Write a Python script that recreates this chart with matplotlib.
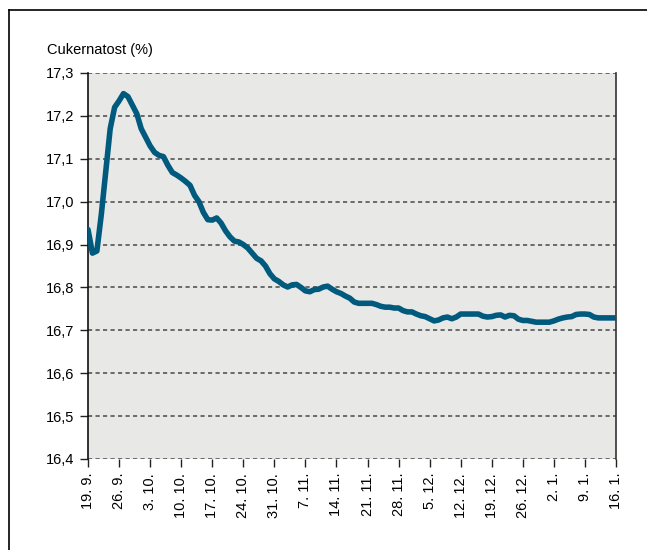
import matplotlib.pyplot as plt
from matplotlib.lines import Line2D
from matplotlib import font_manager

# font: condensed look if available
names = {f.name for f in font_manager.fontManager.ttflist}
fam = ['Liberation Sans Narrow', 'DejaVu Sans'] if 'Liberation Sans Narrow' in names else ['Liberation Sans', 'DejaVu Sans']
plt.rcParams['font.family'] = fam

# daily sugar content (%), 19.9. -> 16.1.
cukernatost = [
    16.935, 16.88, 16.885, 16.97, 17.07, 17.17, 17.22, 17.235, 17.252, 17.245,
    17.225, 17.205, 17.17, 17.15, 17.13, 17.115, 17.108, 17.105, 17.085, 17.068,
    17.062, 17.055, 17.047, 17.038, 17.015, 17.0, 16.975, 16.958, 16.957, 16.962,
    16.95, 16.932, 16.918, 16.908, 16.906, 16.9, 16.892, 16.88, 16.868, 16.862,
    16.85, 16.832, 16.82, 16.814, 16.806, 16.801, 16.806, 16.807, 16.8, 16.792,
    16.79, 16.795, 16.796, 16.801, 16.803, 16.796, 16.79, 16.786, 16.78, 16.775,
    16.766, 16.763, 16.763, 16.763, 16.763, 16.76, 16.756, 16.754, 16.754, 16.752,
    16.752, 16.746, 16.743, 16.743, 16.738, 16.734, 16.732, 16.727, 16.722, 16.724,
    16.729, 16.731, 16.727, 16.731, 16.738, 16.738, 16.738, 16.738, 16.738, 16.733,
    16.731, 16.732, 16.735, 16.736, 16.731, 16.735, 16.734, 16.726, 16.723, 16.723,
    16.721, 16.719, 16.719, 16.719, 16.719, 16.722, 16.726, 16.729, 16.731, 16.732,
    16.737, 16.738, 16.738, 16.737, 16.731, 16.729, 16.729, 16.729, 16.729, 16.729,
]
dny = list(range(len(cukernatost)))

x_labels = ['19. 9.', '26. 9.', '3. 10.', '10. 10.', '17. 10.', '24. 10.', '31. 10.',
            '7. 11.', '14. 11.', '21. 11.', '28. 11.', '5. 12.', '12. 12.', '19. 12.',
            '26. 12.', '2. 1.', '9. 1.', '16. 1.']
x_ticks = [7 * i for i in range(len(x_labels))]
y_ticks = [16.4, 16.5, 16.6, 16.7, 16.8, 16.9, 17.0, 17.1, 17.2, 17.3]

fig = plt.figure(figsize=(6.47, 5.5), dpi=100)
ax = fig.add_axes([88 / 647, 1 - 459 / 550, (616 - 88) / 647, (459 - 73) / 550])
ax.set_facecolor('#e8e8e6')

for v in y_ticks:
    ax.axhline(v, color='#555555', lw=1.2, ls=(0, (2.5, 2)), zorder=1)

ax.plot(dny, cukernatost, color='#005a7d', lw=4, solid_capstyle='round',
        solid_joinstyle='round', zorder=3)

ax.set_xlim(0, 119)
ax.set_ylim(16.4, 17.3)
ax.set_xticks(x_ticks)
ax.set_xticklabels(x_labels, rotation=90, fontsize=10.5)
ax.set_yticks(y_ticks)
ax.set_yticklabels([f'{v:.1f}'.replace('.', ',') for v in y_ticks], fontsize=10.5)
ax.tick_params(axis='both', length=6, width=1, color='#222222', pad=4)

for s in ['top', 'bottom']:
    ax.spines[s].set_visible(False)
ax.spines['left'].set_color('#111111')
ax.spines['right'].set_color('#333333')
ax.spines['left'].set_linewidth(1.2)
ax.spines['right'].set_linewidth(1.2)

fig.text(47 / 647, 1 - 50 / 550, 'Cukernatost (%)', fontsize=10.5, va='center', ha='left')

# outer frame (top and left edges)
fy = 1 - 10 / 550
fx = 9 / 647
fig.add_artist(Line2D([fx, 1], [fy, fy], color='black', lw=1.2, transform=fig.transFigure))
fig.add_artist(Line2D([fx, fx], [0, fy], color='black', lw=1.2, transform=fig.transFigure))

fig.savefig('out.png', dpi=100)
